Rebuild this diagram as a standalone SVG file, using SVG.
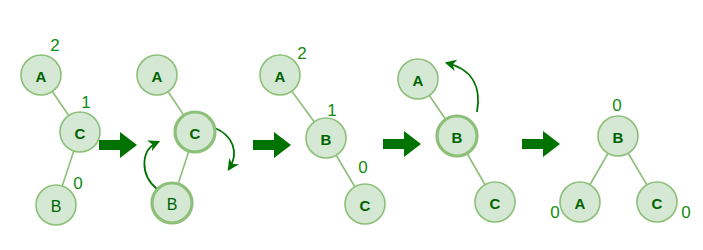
<svg xmlns="http://www.w3.org/2000/svg" width="703" height="250" viewBox="0 0 703 250">
  <defs>
    <style>
      .node { fill: #d5e8d4; stroke: #8cbf78; stroke-width: 1.6; }
      .node.hl { stroke-width: 3.2; }
      .edge { stroke: #8cbf78; stroke-width: 1.6; fill: none; }
      .lbl { font-family: "Liberation Sans", Arial, sans-serif; font-size: 15px; font-weight: bold; fill: #006300; text-anchor: middle; dominant-baseline: central; }
      .lbl.thin { font-weight: normal; font-size: 16px; }
      .bal { font-family: "Liberation Sans", Arial, sans-serif; font-size: 17px; fill: #118c11; text-anchor: middle; dominant-baseline: central; }
      .step { fill: #007200; }
      .rot { stroke: #007200; stroke-width: 1.8; fill: none; marker-end: url(#head); }
    </style>
    <marker id="head" viewBox="0 0 10 10" refX="8" refY="5" markerWidth="6.5" markerHeight="6.5" orient="auto" markerUnits="strokeWidth">
      <path d="M0,0 L10,5 L0,10 L3,5 Z" fill="#007200"/>
    </marker>
    <path id="bigArrow" d="M0,-5 L21,-5 L21,-13 L38,0 L21,13 L21,5 L0,5 Z"/>
  </defs>

  <!-- tree edges -->
  <g id="connectors">
    <line class="edge" x1="41" y1="75" x2="80" y2="132"/>
    <line class="edge" x1="80" y1="132" x2="56" y2="205"/>
    <line class="edge" x1="157" y1="75" x2="195" y2="132"/>
    <line class="edge" x1="195" y1="132" x2="172" y2="203"/>
    <line class="edge" x1="280" y1="75" x2="326" y2="138"/>
    <line class="edge" x1="326" y1="138" x2="365" y2="204"/>
    <line class="edge" x1="418" y1="79" x2="457" y2="136"/>
    <line class="edge" x1="457" y1="136" x2="495" y2="202"/>
    <line class="edge" x1="618" y1="136" x2="580" y2="202"/>
    <line class="edge" x1="618" y1="136" x2="657" y2="202"/>
  </g>

  <!-- step arrows between stages -->
  <g id="steps">
    <use href="#bigArrow" class="step" x="99" y="145"/>
    <use href="#bigArrow" class="step" x="253" y="145"/>
    <use href="#bigArrow" class="step" x="383" y="144"/>
    <use href="#bigArrow" class="step" x="522" y="144"/>
  </g>

  <!-- rotation hints -->
  <g id="rotations">
    <path class="rot" d="M157,189 C140,175 140,150 158,142"/>
    <path class="rot" d="M215,128 C232,135 240,152 229,169"/>
    <path class="rot" d="M477,112 C481,90 475,70 447,63"/>
  </g>

  <!-- stage 1 -->
  <g id="s1-A"><circle class="node" cx="41" cy="75" r="20"/><text class="lbl" x="41" y="76">A</text></g>
  <g id="s1-C"><circle class="node" cx="80" cy="132" r="20"/><text class="lbl" x="80" y="133">C</text></g>
  <g id="s1-B"><circle class="node" cx="56" cy="205" r="20"/><text class="lbl thin" x="56" y="206">B</text></g>
  <text class="bal" x="55" y="45">2</text>
  <text class="bal" x="86" y="102">1</text>
  <text class="bal" x="78" y="183">0</text>

  <!-- stage 2 -->
  <g id="s2-A"><circle class="node" cx="157" cy="75" r="20"/><text class="lbl" x="157" y="76">A</text></g>
  <g id="s2-C"><circle class="node hl" cx="195" cy="132" r="20"/><text class="lbl" x="195" y="133">C</text></g>
  <g id="s2-B"><circle class="node hl" cx="172" cy="203" r="20"/><text class="lbl thin" x="172" y="204">B</text></g>

  <!-- stage 3 -->
  <g id="s3-A"><circle class="node" cx="280" cy="75" r="20"/><text class="lbl" x="280" y="76">A</text></g>
  <g id="s3-B"><circle class="node" cx="326" cy="138" r="20"/><text class="lbl" x="326" y="139">B</text></g>
  <g id="s3-C"><circle class="node" cx="365" cy="204" r="20"/><text class="lbl" x="365" y="205">C</text></g>
  <text class="bal" x="302" y="53">2</text>
  <text class="bal" x="332" y="110">1</text>
  <text class="bal" x="363" y="167">0</text>

  <!-- stage 4 -->
  <g id="s4-A"><circle class="node" cx="418" cy="79" r="20"/><text class="lbl" x="418" y="80">A</text></g>
  <g id="s4-B"><circle class="node hl" cx="457" cy="136" r="20"/><text class="lbl" x="457" y="137">B</text></g>
  <g id="s4-C"><circle class="node" cx="495" cy="202" r="20"/><text class="lbl" x="495" y="203">C</text></g>

  <!-- stage 5 -->
  <g id="s5-B"><circle class="node" cx="618" cy="136" r="20"/><text class="lbl" x="618" y="137">B</text></g>
  <g id="s5-A"><circle class="node" cx="580" cy="202" r="20"/><text class="lbl" x="580" y="203">A</text></g>
  <g id="s5-C"><circle class="node" cx="657" cy="202" r="20"/><text class="lbl" x="657" y="203">C</text></g>
  <text class="bal" x="617" y="105">0</text>
  <text class="bal" x="555" y="212">0</text>
  <text class="bal" x="686" y="212">0</text>
</svg>
